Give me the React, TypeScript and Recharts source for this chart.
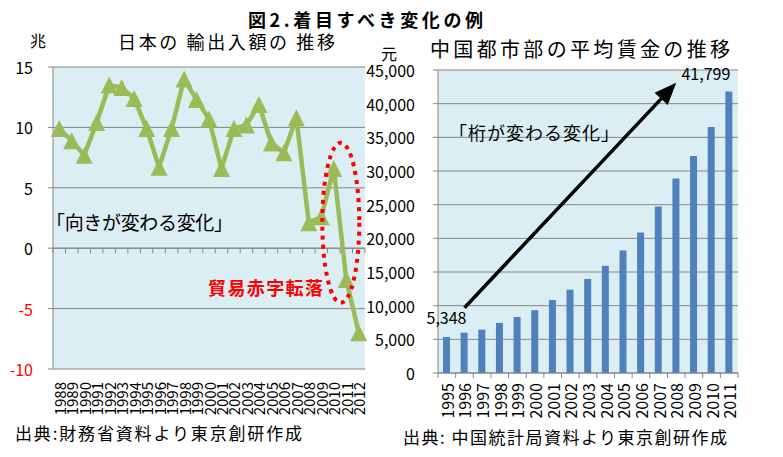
import React from 'react';
import {
  LineChart,
  Line,
  BarChart,
  Bar,
  XAxis,
  YAxis,
  CartesianGrid,
  ReferenceLine,
  ReferenceDot,
} from 'recharts';

const FONT = '"Noto Sans CJK JP", "Noto Sans", sans-serif';

// ---- Left chart: Japan trade balance (trillion yen) ----
const tradeYears = [
  '1988', '1989', '1990', '1991', '1992', '1993', '1994', '1995', '1996', '1997',
  '1998', '1999', '2000', '2001', '2002', '2003', '2004', '2005', '2006', '2007',
  '2008', '2009', '2010', '2011', '2012',
];
const tradeBalance = [
  9.9, 8.9, 7.7, 10.4, 13.5, 13.3, 12.4, 9.9, 6.7, 9.9,
  14.0, 12.3, 10.7, 6.6, 9.9, 10.2, 11.9, 8.7, 7.9, 10.8,
  2.1, 2.6, 6.6, -2.6, -7.0,
];
const tradeTicks = [-10, -5, 0, 5, 10, 15];

// ---- Right chart: China urban average wage (yuan) ----
const wageYears = [
  '1995', '1996', '1997', '1998', '1999', '2000', '2001', '2002', '2003',
  '2004', '2005', '2006', '2007', '2008', '2009', '2010', '2011',
];
const wages = [
  5348, 5980, 6444, 7446, 8319, 9333, 10834, 12373, 13969,
  15920, 18200, 20856, 24721, 28898, 32244, 36539, 41799,
];
const wageTicks = [0, 5000, 10000, 15000, 20000, 25000, 30000, 35000, 40000, 45000];

const tradeData = tradeYears.map((year, i) => ({ year, value: tradeBalance[i] }));
const wageData = wageYears.map((year, i) => ({ year, wage: wages[i] }));

const GRID = '#868686';
const PLOT_BG = '#DBEEF3';
const GREEN = '#9BBB59';
const BLUE = '#4F81BD';

const LeftYTick = (p: any) => {
  const v = p.payload.value;
  return (
    <text x={p.x} y={p.y} textAnchor="end" dominantBaseline="central" fontSize={16}
      fontFamily={FONT} fill={v < 0 ? '#FF0000' : '#000000'}>
      {v}
    </text>
  );
};

const RightYTick = (p: any) => (
  <text x={p.x} y={p.y} textAnchor="end" dominantBaseline="central" fontSize={16}
    fontFamily={FONT} fill="#000000">
    {Number(p.payload.value).toLocaleString('en-US')}
  </text>
);

const LeftXTick = (p: any) => (
  <text x={p.x} y={p.y} transform={`rotate(-90, ${p.x}, ${p.y})`} textAnchor="end"
    dominantBaseline="central" fontSize={15} fontFamily={FONT} fill="#000000">
    {p.payload.value}
  </text>
);

const RightXTick = (p: any) => {
  const half = p.payload && typeof p.payload.offset === 'number' ? p.payload.offset : 0;
  const axisY = p.y - 10;
  return (
    <g>
      {half > 0 && (
        <line x1={p.x - half} y1={axisY} x2={p.x - half} y2={axisY + 5} stroke={GRID} />
      )}
      {half > 0 && p.index === wageYears.length - 1 && (
        <line x1={p.x + half} y1={axisY} x2={p.x + half} y2={axisY + 5} stroke={GRID} />
      )}
      <text x={p.x} y={p.y} transform={`rotate(-90, ${p.x}, ${p.y})`} textAnchor="end"
        dominantBaseline="central" fontSize={16} fontFamily={FONT} fill="#000000">
        {p.payload.value}
      </text>
    </g>
  );
};

const Triangle = (p: any) => {
  const { cx, cy, index } = p;
  if (cx == null || cy == null) return <g key={index} />;
  const h = 8.5;
  return (
    <polygon key={index}
      points={`${cx},${cy - h} ${cx + h},${cy + h} ${cx - h},${cy + h}`}
      fill={GREEN} />
  );
};

const ZeroLineWithTicks = (p: any) => {
  const { x1, y1, x2, y2 } = p;
  const n = tradeYears.length;
  const ticks = [];
  for (let i = 0; i <= n; i++) {
    const x = x1 + ((x2 - x1) * i) / n;
    ticks.push(<line key={i} x1={x} y1={y1} x2={x} y2={y1 + 5} stroke={GRID} />);
  }
  return (
    <g>
      <line x1={x1} y1={y1} x2={x2} y2={y2} stroke={GRID} />
      {ticks}
    </g>
  );
};

const DottedEllipse = (p: any) => (
  <ellipse cx={p.cx + 7} cy={p.cy} rx={18.5} ry={80} fill="none" stroke="#FF0000"
    strokeWidth={4} strokeDasharray="4 5" />
);

const Arrow = (p: any) => {
  const { x1, y1, x2, y2 } = p;
  const dx = x2 - x1;
  const dy = y2 - y1;
  const len = Math.hypot(dx, dy) || 1;
  const ux = dx / len;
  const uy = dy / len;
  const headLen = 22;
  const headW = 9;
  const bx = x2 - ux * headLen;
  const by = y2 - uy * headLen;
  const px = -uy;
  const py = ux;
  return (
    <g>
      <line x1={x1} y1={y1} x2={bx + ux * 2} y2={by + uy * 2} stroke="#000" strokeWidth={3.5} />
      <polygon points={`${x2},${y2} ${bx + px * headW},${by + py * headW} ${bx - px * headW},${by - py * headW}`}
        fill="#000" />
    </g>
  );
};

const BarValueLabel = (p: any) => {
  const { x, y, width, value } = p;
  if (value === wages[0]) {
    return (
      <text x={x + width / 2} y={y - 20} textAnchor="middle" dominantBaseline="central"
        fontSize={16} fontFamily={FONT} fill="#000">
        {Number(value).toLocaleString('en-US')}
      </text>
    );
  }
  if (value === wages[wages.length - 1]) {
    return (
      <text x={x + width / 2 - 23} y={y - 19} textAnchor="middle" dominantBaseline="central"
        fontSize={16} fontFamily={FONT} fill="#000">
        {Number(value).toLocaleString('en-US')}
      </text>
    );
  }
  return null;
};

export default function App() {
  return (
    <div style={{ position: 'absolute', left: 0, top: 0, width: 783, height: 457, background: '#fff', fontFamily: FONT }}>
      <div style={{ position: 'absolute', left: 0, top: 0 }}>
        <LineChart width={370} height={430} data={tradeData}
          margin={{ top: 67, right: 5, bottom: 0, left: 0 }}>
          <CartesianGrid vertical={false} stroke={GRID} fill={PLOT_BG} />
          <XAxis dataKey="year" axisLine={false} tickLine={false} tickSize={0} tickMargin={13}
            height={61} interval={0} padding={{ left: 6.25, right: 6.25 }} tick={<LeftXTick />} />
          <YAxis domain={[-10, 15]} ticks={tradeTicks} width={53} interval={0}
            axisLine={{ stroke: GRID }} tickLine={{ stroke: GRID }} tickSize={5} tickMargin={15}
            tick={<LeftYTick />} />
          <ReferenceLine y={0} shape={<ZeroLineWithTicks />} />
          <Line dataKey="value" stroke={GREEN} strokeWidth={4.5} dot={Triangle}
            activeDot={false} isAnimationActive={false} />
          <ReferenceDot x="2010" y={2.1} shape={<DottedEllipse />} />
        </LineChart>
      </div>
      <div style={{ position: 'absolute', left: 330, top: 0 }}>
        <BarChart width={453} height={420} data={wageData}
          margin={{ top: 70, right: 45, bottom: 0, left: 0 }}>
          <CartesianGrid vertical={false} stroke={GRID} fill={PLOT_BG} />
          <XAxis dataKey="year" axisLine={{ stroke: GRID }} tickLine={false} tickSize={0}
            tickMargin={10} height={47} interval={0} tick={<RightXTick />} />
          <YAxis domain={[0, 45000]} ticks={wageTicks} width={108} interval={0}
            axisLine={{ stroke: GRID }} tickLine={{ stroke: GRID }} tickSize={5} tickMargin={18}
            tick={<RightYTick />} />
          <Bar dataKey="wage" fill={BLUE} barSize={7} isAnimationActive={false}
            label={BarValueLabel} />
          <ReferenceLine segment={[{ x: '1996', y: 9700 }, { x: '2008', y: 43100 }]}
            ifOverflow="visible" shape={<Arrow />} />
        </BarChart>
      </div>
      <svg width={783} height={457} style={{ position: 'absolute', left: 0, top: 0, pointerEvents: 'none' }}
        fontFamily={FONT}>
        <text x={248} y={19} dominantBaseline="central" fontSize={18} fontWeight="bold"
          textLength={235} lengthAdjust="spacing">図2.着目すべき変化の例</text>
        <text x={118} y={41} dominantBaseline="central" fontSize={18}
          textLength={217} lengthAdjust="spacing">日本の 輸出入額の 推移</text>
        <text x={430} y={48} dominantBaseline="central" fontSize={20}
          textLength={300} lengthAdjust="spacing">中国都市部の平均賃金の推移</text>
        <text x={30} y={40} dominantBaseline="central" fontSize={16}>兆</text>
        <text x={381} y={53} dominantBaseline="central" fontSize={16}>元</text>
        <text x={46} y={221} dominantBaseline="central" fontSize={19}
          textLength={187} lengthAdjust="spacing">「向きが変わる変化」</text>
        <text x={208} y={287} dominantBaseline="central" fontSize={18} fontWeight="bold" fill="#FF0000"
          textLength={115} lengthAdjust="spacing">貿易赤字転落</text>
        <text x={449} y={132} dominantBaseline="central" fontSize={18}
          textLength={170} lengthAdjust="spacing">「桁が変わる変化」</text>
        <text x={15} y={432} dominantBaseline="central" fontSize={17}
          textLength={287} lengthAdjust="spacing">出典:財務省資料より東京創研作成</text>
        <text x={403} y={436} dominantBaseline="central" fontSize={17}
          textLength={324} lengthAdjust="spacing">出典: 中国統計局資料より東京創研作成</text>
      </svg>
    </div>
  );
}
